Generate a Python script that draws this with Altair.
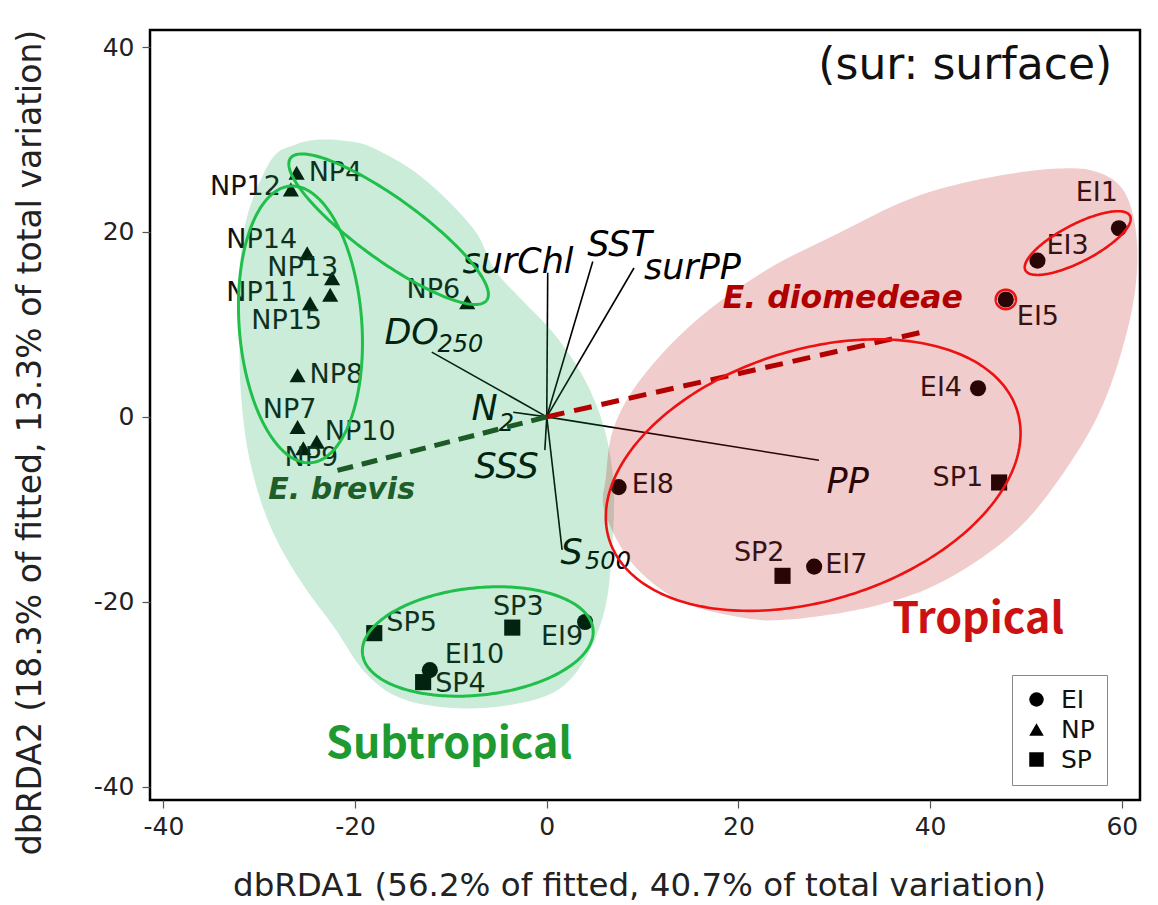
import altair as alt
import numpy as np
import pandas as pd

# ---------------- data ----------------
site_names = ["EI1", "EI3", "EI5", "EI4", "EI8", "EI7", "EI9", "EI10",
              "NP4", "NP12", "NP14", "NP13", "NP11", "NP15", "NP6", "NP8", "NP7", "NP10", "NP9",
              "SP1", "SP2", "SP3", "SP4", "SP5"]
site_x = [59.7, 51.2, 47.9, 45.0, 7.5, 27.9, 4.0, -12.2,
          -26.1, -26.7, -25.0, -22.4, -22.6, -24.7, -8.3, -26.0, -26.0, -24.0, -25.4,
          47.2, 24.6, -3.6, -12.9, -18.0]
site_y = [20.4, 16.9, 12.7, 3.1, -7.6, -16.2, -22.2, -27.4,
          26.4, 24.6, 17.7, 15.0, 13.2, 12.3, 12.4, 4.5, -1.1, -2.7, -3.4,
          -7.1, -17.2, -22.8, -28.7, -23.4]

# biplot vectors (tips)
env_names = ["surChl", "SST", "surPP", "DO250", "N2", "SSS", "S500", "PP"]
env_x = [0.1, 4.8, 9.1, -12.0, -3.5, -0.2, 1.6, 28.4]
env_y = [15.6, 16.8, 16.1, 7.0, 0.5, -3.6, -14.4, -4.7]

# biplot label texts (main part and subscript part) with positions
env_lab_text = ["surChl", "SST", "surPP", "DO", "N", "SSS", "S", "PP"]
env_lab_x = [-3.0, 7.6, 15.2, -14.1, -6.5, -4.2, 2.6, 31.4]
env_lab_y = [16.8, 18.6, 16.1, 9.1, 0.8, -5.4, -14.7, -7.0]
env_sub_text = ["250", "2", "500"]
env_sub_x = [-11.4, -5.0, 4.0]
env_sub_y = [7.8, -0.8, -15.7]

# species vectors (dashed)
sp_names = ["E. brevis", "E. diomedeae"]
sp_x = [-22.6, 38.9]
sp_y = [-6.0, 9.1]

# shaded group regions: outline points (data units)
sub_region_x = [-28.60, -26.30, -24.01, -21.09, -18.16, -12.94, -7.72, -5.43, -2.61, 0.84,
                3.97, 6.05, 6.99, 6.78, 6.05, 3.97, 0.84, -4.38, -10.13, -15.34, -19.0,
                -22.13, -25.78, -28.91, -31.0, -31.94, -32.05, -31.94, -31.0]
sub_region_y = [28.02, 29.42, 29.97, 29.86, 29.10, 25.85, 20.45, 15.90, 12.66, 8.87,
                4.00, -1.41, -7.57, -14.71, -20.88, -26.29, -29.75, -31.26, -31.48, -30.40,
                -27.59, -22.83, -17.63, -11.68, -4.65, 2.92, 10.49, 17.20, 22.61]
trop_region_x = [6.16, 6.99, 9.92, 15.55, 22.96, 30.48, 37.89, 45.41, 52.92, 57.41, 60.33,
                 61.59, 61.06, 58.46, 54.70, 49.16, 41.65, 34.24, 24.84, 19.31, 13.67,
                 8.87, 6.05]
trop_region_y = [-6.60, -1.19, 4.22, 10.39, 15.90, 19.90, 23.58, 25.75, 26.83, 26.50,
                 24.23, 18.82, 11.58, 2.38, -4.87, -12.12, -17.63, -20.45, -21.96, -21.53,
                 -19.80, -15.79, -10.28]

# cluster ellipses: centre, semi-axes, angle (deg)
ell_names = ["gTop", "gLeft", "gBottom", "rSmall", "rBig", "rEI5"]
ell_cx = [-16.5, -25.7, -7.2, 55.4, 27.8, 47.9]
ell_cy = [20.3, 10.0, -24.3, 18.8, -6.3, 12.7]
ell_a = [12.8, 15.0, 12.1, 6.2, 22.4, 1.05]
ell_b = [3.3, 6.4, 5.8, 2.0, 13.5, 1.05]
ell_ang = [-37.0, 94.0, 6.4, 28.6, 18.9, 0.0]

x_ticks = [-40, -20, 0, 20, 40, 60]
y_ticks = [-40, -20, 0, 20, 40]
x_title = "dbRDA1 (56.2% of fitted, 40.7% of total variation)"
y_title = "dbRDA2 (18.3% of fitted, 13.3% of total variation)"

# ---------------- styling ----------------
PX_X = 9.58   # px per unit (for label offsets only)
PX_Y = 9.244
label_place = {  # align, dx px, dy px
    "EI1": ("center", -22, -35), "EI3": ("left", 9, -15), "EI5": ("left", 11, 18),
    "EI4": ("right", -16, 0), "EI8": ("left", 13, -2), "EI7": ("left", 11, -2),
    "EI9": ("right", -2, 15), "EI10": ("left", 15, -15),
    "NP4": ("left", 12, 0), "NP12": ("right", -10, -2), "NP14": ("right", -10, -13),
    "NP13": ("right", 6, -10), "NP11": ("right", -33, -2), "NP15": ("right", 12, 18),
    "NP6": ("right", -7, -12), "NP8": ("left", 12, 0), "NP7": ("center", -8, -17),
    "NP10": ("left", 8, -10), "NP9": ("center", 8, 10),
    "SP1": ("right", -16, -4), "SP2": ("right", 2, -23), "SP3": ("center", 6, -21),
    "SP4": ("left", 12, 2), "SP5": ("left", 12, -10),
}
FONT = "DejaVu Sans"

xs = alt.Scale(domain=[-41.4, 61.9], nice=False, zero=False)
ys = alt.Scale(domain=[-41.45, 41.85], nice=False, zero=False)
xaxis = alt.Axis(values=x_ticks, grid=False, domain=False, tickSize=8, tickColor="#555",
                 tickWidth=1.2, labelFontSize=25, labelFont=FONT, labelColor="#222",
                 labelPadding=6, labelFlush=False, labelOverlap=False,
                 labelExpr="'' + datum.value",
                 title=x_title, titleFontSize=32.5, titleFont=FONT, titleFontWeight="normal",
                 titleColor="#222", titleX=489, titleY=85, titleAlign="center",
                 titleBaseline="middle")
yaxis = alt.Axis(values=y_ticks, grid=False, domain=False, tickSize=8, tickColor="#555",
                 tickWidth=1.2, labelFontSize=25, labelFont=FONT, labelColor="#222",
                 labelPadding=8, labelFlush=False, labelOverlap=False,
                 labelExpr="'' + datum.value",
                 title=y_title, titleFontSize=33, titleFont=FONT, titleFontWeight="normal",
                 titleColor="#222", titleX=-120, titleY=412, titleAngle=270,
                 titleAlign="center", titleBaseline="middle")


def X(f="x"):
    return alt.X(f"{f}:Q", scale=xs, axis=xaxis)


def Y(f="y"):
    return alt.Y(f"{f}:Q", scale=ys, axis=yaxis)


# ---------------- tables ----------------
sites = pd.DataFrame({"name": site_names, "x": site_x, "y": site_y})
sites["group"] = sites["name"].str[:2]
sites["align"] = [label_place[n][0] for n in site_names]
labs = sites.copy()
labs["x"] = [x + label_place[n][1] / PX_X for n, x in zip(site_names, site_x)]
labs["y"] = [y - label_place[n][2] / PX_Y for n, y in zip(site_names, site_y)]

env = pd.DataFrame({"name": env_names, "x0": 0.0, "y0": 0.0, "x": env_x, "y": env_y})
env_lab = pd.DataFrame({"t": env_lab_text, "x": env_lab_x, "y": env_lab_y})
env_sub = pd.DataFrame({"t": env_sub_text, "x": env_sub_x, "y": env_sub_y})

sub_reg = pd.DataFrame({"i": range(len(sub_region_x)), "x": sub_region_x, "y": sub_region_y})
trop_reg = pd.DataFrame({"i": range(len(trop_region_x)), "x": trop_region_x,
                         "y": trop_region_y})

rows = []
for nm, cx, cy, a, b, th in zip(ell_names, ell_cx, ell_cy, ell_a, ell_b, ell_ang):
    t = np.linspace(0, 2 * np.pi, 241)
    r = np.deg2rad(th)
    ex = cx + a * np.cos(t) * np.cos(r) - b * np.sin(t) * np.sin(r)
    ey = cy + a * np.cos(t) * np.sin(r) + b * np.sin(t) * np.cos(r)
    for i, (u, v) in enumerate(zip(ex, ey)):
        rows.append({"ell": nm, "i": i, "x": u, "y": v})
ell = pd.DataFrame(rows)

sp_rows = []
for nm, x, y in zip(sp_names, sp_x, sp_y):
    sp_rows.append({"sp": nm, "i": 0, "x": 0.0, "y": 0.0})
    sp_rows.append({"sp": nm, "i": 1, "x": x, "y": y})
spdf = pd.DataFrame(sp_rows)

# ---------------- layers ----------------
rules = alt.Chart(env).mark_rule(color="black", strokeWidth=1.6).encode(
    x=X("x0"), y=Y("y0"), x2="x:Q", y2="y:Q")

env_text = alt.Chart(env_lab).mark_text(font=FONT, fontSize=35, fontStyle="italic",
                                        color="black", align="center",
                                        baseline="middle").encode(x=X(), y=Y(), text="t:N")
env_subt = alt.Chart(env_sub).mark_text(font=FONT, fontSize=24, fontStyle="italic",
                                        color="black", align="left",
                                        baseline="middle").encode(x=X(), y=Y(), text="t:N")

points = alt.Chart(sites).mark_point(filled=True, size=260, opacity=1).encode(
    x=X(), y=Y(),
    shape=alt.Shape("group:N", title=None,
                    scale=alt.Scale(domain=["EI", "NP", "SP"],
                                    range=["circle", "triangle-up", "square"]),
                    legend=alt.Legend(orient="none", legendX=862, legendY=645,
                                      fillColor="white", strokeColor="#888",
                                      padding=12, labelFontSize=25, labelFont=FONT,
                                      labelColor="#111", symbolSize=210, labelOffset=12,
                                      symbolFillColor="black", symbolStrokeWidth=0,
                                      rowPadding=4, cornerRadius=0)),
    color=alt.value("black"))

label_layers = []
for al in ["left", "right", "center"]:
    label_layers.append(
        alt.Chart(labs[labs["align"] == al]).mark_text(
            font=FONT, fontSize=27, color="#111", align=al, baseline="middle"
        ).encode(x=X(), y=Y(), text="name:N"))

fill_g = alt.Chart(sub_reg).mark_line(
    interpolate="cardinal-closed", fill="#05a64a", fillOpacity=0.21, strokeOpacity=0,
    clip=True).encode(x=X(), y=Y(), order="i:Q")
fill_r = alt.Chart(trop_reg).mark_line(
    interpolate="cardinal-closed", fill="#c01818", fillOpacity=0.22, strokeOpacity=0,
    clip=True).encode(x=X(), y=Y(), order="i:Q")

out_g = alt.Chart(ell[ell["ell"].isin(["gTop", "gLeft", "gBottom"])]).mark_line(
    color="#1fbf4a", strokeWidth=3).encode(x=X(), y=Y(), detail="ell:N", order="i:Q")
out_r = alt.Chart(ell[ell["ell"].isin(["rSmall", "rBig", "rEI5"])]).mark_line(
    color="#ee1111", strokeWidth=2.6).encode(x=X(), y=Y(), detail="ell:N", order="i:Q")

dash_g = alt.Chart(spdf[spdf["sp"] == "E. brevis"]).mark_line(
    color="#1c5a26", strokeWidth=5, strokeDash=[16, 9]).encode(x=X(), y=Y(), order="i:Q")
dash_r = alt.Chart(spdf[spdf["sp"] == "E. diomedeae"]).mark_line(
    color="#b30000", strokeWidth=5, strokeDash=[18, 10]).encode(x=X(), y=Y(), order="i:Q")

sp_lab = pd.DataFrame({"t": ["E. brevis", "E. diomedeae"], "x": [-21.4, 30.9],
                       "y": [-7.9, 12.7], "c": ["#1d5e2a", "#b00000"],
                       "s": [30, 31.5]})
sp_text = alt.Chart(sp_lab).mark_text(font=FONT, fontStyle="italic",
                                      fontWeight="bold", align="center",
                                      baseline="middle").encode(
    x=X(), y=Y(), text="t:N", color=alt.Color("c:N", scale=None),
    size=alt.Size("s:Q", scale=None))

reg_lab = pd.DataFrame({"t": ["Tropical", "Subtropical"], "x": [45.0, -10.2],
                        "y": [-22.0, -35.5], "c": ["#cc1111", "#1e9a30"]})
reg_text = alt.Chart(reg_lab).mark_text(font="Noto Sans CJK JP", fontSize=43,
                                        fontWeight="bold", align="center",
                                        baseline="middle").encode(
    x=X(), y=Y(), text="t:N", color=alt.Color("c:N", scale=None))

note = pd.DataFrame({"t": ["(sur: surface)"], "x": [59.0], "y": [38.0]})
note_text = alt.Chart(note).mark_text(font=FONT, fontSize=44, color="#111", align="right",
                                      baseline="middle").encode(x=X(), y=Y(), text="t:N")

chart = alt.layer(
    rules, env_text, env_subt, points, *label_layers,
    fill_g, fill_r, dash_g, dash_r, out_g, out_r, sp_text, reg_text, note_text
).properties(
    width=990, height=770,
    autosize=alt.AutoSizeParams(type="none"),
    padding={"left": 150, "top": 30, "right": 18, "bottom": 105},
).configure_view(stroke="black", strokeWidth=2.5)

chart.save("out.html", embed_options={"renderer": "svg", "actions": False})
